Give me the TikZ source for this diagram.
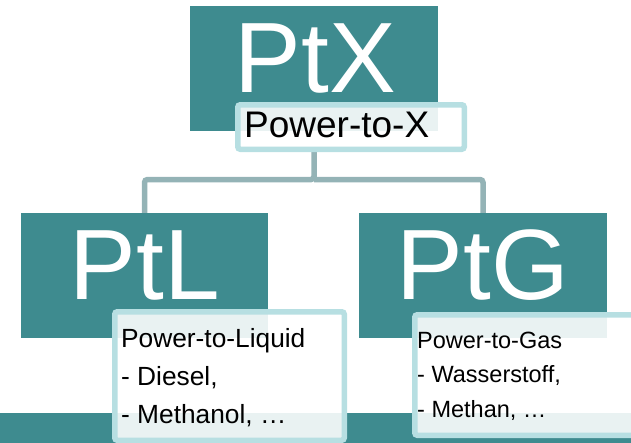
\documentclass[tikz,border=0pt]{standalone}
\usepackage{fontspec}
\setmainfont{Liberation Sans}
\definecolor{teal1}{HTML}{3E8B8F}
\definecolor{conn}{HTML}{94B3B6}
\definecolor{lborder}{HTML}{B7DFE2}
\tikzset{
  bigbox/.style={fill=teal1, draw=none, inner sep=0pt},
  bigtext/.style={text=white, inner sep=0pt, font=\fontsize{100}{120}\selectfont},
  lblbox/.style={draw=lborder, line width=5.5pt, fill=white, fill opacity=0.89, rounded corners=2.5pt, inner sep=0pt},
  connector/.style={draw=conn, line width=5.5pt, rounded corners=3pt},
  lbltext/.style={inner sep=0pt, text=black, anchor=base west},
}
\begin{document}
\begin{tikzpicture}[x=1pt,y=-1pt]
\useasboundingbox (0,0) rectangle (631,442);
% bottom strip
\path[fill=teal1] (0,413) rectangle (640,450);
% main boxes
\node[bigbox, minimum width=248pt, minimum height=125pt] (ptx) at (314,68.5) {};
\node[bigbox, minimum width=247pt, minimum height=125pt] (ptl) at (144.5,275.5) {};
\node[bigbox, minimum width=248pt, minimum height=125pt] (ptg) at (483,275.5) {};
\node[bigtext, anchor=base] (ptxt) at (315.5,92) {PtX};
\node[bigtext, anchor=base] (ptlt) at (145,299) {PtL};
\node[bigtext, anchor=base] (ptgt) at (483,299) {PtG};
% connectors
\coordinate (split) at (314,179.5);
\draw[connector] (ptx.south |- 0,149) -- (split) -| (ptl.north);
\draw[connector] (split) -| (ptg.north);
% label box top
\node[lblbox, minimum width=226.5pt, minimum height=44.5pt] (ptxl) at (351,127) {};
\node[lbltext, font=\fontsize{37}{40}\selectfont] (ptxlt) at (244,137.5) {Power-to-X};
% PtL text box
\node[lblbox, minimum width=229.5pt, minimum height=128.5pt] (ptll) at (229.5,376) {};
\node[lbltext, font=\fontsize{26.3}{30}\selectfont] (ptl1) at (121,347) {Power-to-Liquid};
\node[lbltext, font=\fontsize{26.3}{30}\selectfont] (ptl2) at (121,385) {- Diesel,};
\node[lbltext, font=\fontsize{26.3}{30}\selectfont] (ptl3) at (121,423) {- Methanol, …};
% PtG text box
\node[lblbox, minimum width=222.5pt, minimum height=120.5pt] (ptgl) at (526,375) {};
\node[lbltext, font=\fontsize{23.5}{28}\selectfont] (ptg1) at (417,348) {Power-to-Gas};
\node[lbltext, font=\fontsize{23.5}{28}\selectfont] (ptg2) at (417,382) {- Wasserstoff,};
\node[lbltext, font=\fontsize{23.5}{28}\selectfont] (ptg3) at (417,417) {- Methan, …};
\end{tikzpicture}
\end{document}
